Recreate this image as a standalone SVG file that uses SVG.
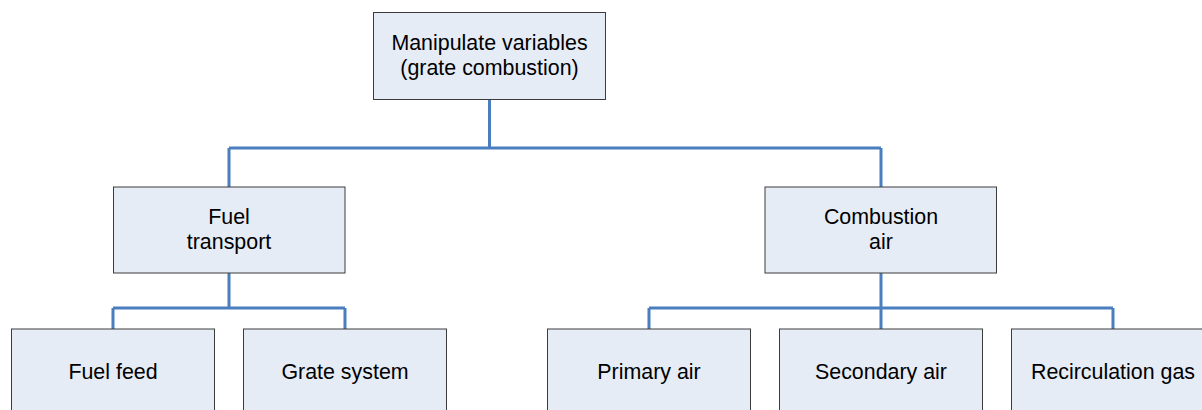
<svg xmlns="http://www.w3.org/2000/svg" width="1202" height="410" viewBox="0 0 1202 410">
  <style>
    .box { fill: #E6ECF6; stroke: #3C3C3C; stroke-width: 1; }
    .lbl { font-family: "Liberation Sans", Arial, sans-serif; font-size: 21.4px; fill: #000; text-anchor: middle; }
    .wire { fill: none; stroke: #4A7EBF; stroke-width: 3; stroke-linejoin: miter; }
  </style>
  <rect width="1202" height="410" fill="#FFFFFF"/>

  <!-- tree connectors -->
  <g id="connectors">
    <path class="wire" d="M489.5,99.5 V148 M229,148 H881 M229,148 V187 M881,148 V187"/>
    <path class="wire" d="M229,273 V308 M113,308 H345 M113,308 V329 M345,308 V329"/>
    <path class="wire" d="M881,273 V308 M649,308 H1113 M649,308 V329 M881,308 V329 M1113,308 V329"/>
  </g>

  <g id="root">
    <rect class="box" x="373.5" y="12.5" width="232" height="87"/>
    <text class="lbl" x="489.5" y="50">Manipulate variables</text>
    <text class="lbl" x="489.5" y="75">(grate combustion)</text>
  </g>

  <g id="fuel-transport">
    <rect class="box" x="113.5" y="187" width="231.5" height="86"/>
    <text class="lbl" x="229" y="223.5">Fuel</text>
    <text class="lbl" x="229" y="248.5">transport</text>
  </g>

  <g id="combustion-air">
    <rect class="box" x="765" y="187" width="231.5" height="86"/>
    <text class="lbl" x="881" y="224">Combustion</text>
    <text class="lbl" x="881" y="249">air</text>
  </g>

  <g id="fuel-feed">
    <rect class="box" x="11.5" y="329" width="203" height="100"/>
    <text class="lbl" x="113" y="378.5">Fuel feed</text>
  </g>

  <g id="grate-system">
    <rect class="box" x="243.5" y="329" width="203" height="100"/>
    <text class="lbl" x="345" y="378.5">Grate system</text>
  </g>

  <g id="primary-air">
    <rect class="box" x="547.5" y="329" width="203" height="100"/>
    <text class="lbl" x="649" y="378.5">Primary air</text>
  </g>

  <g id="secondary-air">
    <rect class="box" x="779.5" y="329" width="203" height="100"/>
    <text class="lbl" x="881" y="378.5">Secondary air</text>
  </g>

  <g id="recirculation-gas">
    <rect class="box" x="1011.5" y="329" width="203" height="100"/>
    <text class="lbl" x="1113" y="378.5">Recirculation gas</text>
  </g>
</svg>
